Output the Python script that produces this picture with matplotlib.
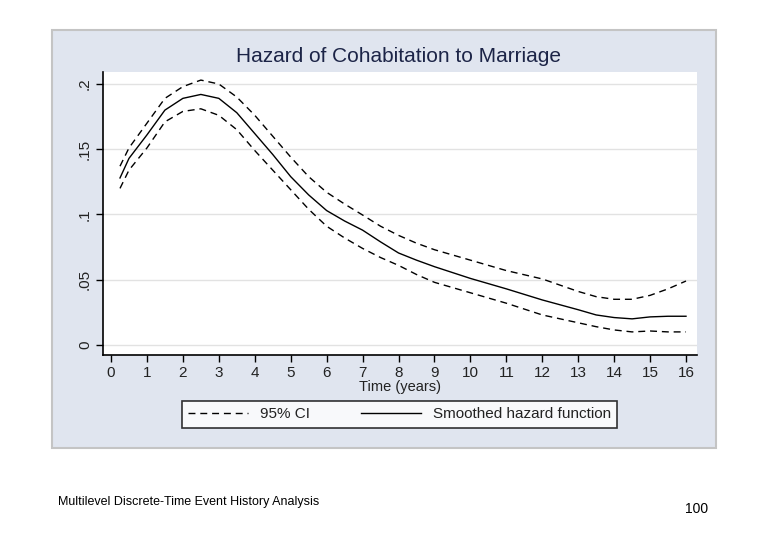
## hazard plot: cohabitation -> marriage

import matplotlib
matplotlib.use('Agg')
import matplotlib.pyplot as plt
from matplotlib.patches import Rectangle

# values
time = [0.25, 0.5, 1, 1.5, 2, 2.5, 3, 3.5, 4, 4.5, 5, 5.5, 6, 6.5, 7, 7.5, 8, 8.5, 9,
        10, 11, 12, 13, 13.5, 14, 14.5, 15, 15.5, 16]
hazard = [0.128, 0.143, 0.161, 0.180, 0.189, 0.192, 0.189, 0.178, 0.162, 0.146, 0.129,
          0.115, 0.103, 0.095, 0.088, 0.079, 0.0705, 0.065, 0.060,
          0.051, 0.043, 0.0345, 0.027, 0.023, 0.021, 0.020, 0.0215, 0.022, 0.022]
ci_upper = [0.137, 0.151, 0.170, 0.189, 0.198, 0.203, 0.200, 0.190, 0.176, 0.160, 0.144,
            0.129, 0.117, 0.108, 0.0996, 0.091, 0.084, 0.078, 0.073,
            0.065, 0.057, 0.0506, 0.041, 0.037, 0.035, 0.035, 0.038, 0.043, 0.049]
ci_lower = [0.120, 0.134, 0.151, 0.171, 0.179, 0.181, 0.176, 0.165, 0.149, 0.134, 0.119,
            0.104, 0.091, 0.082, 0.074, 0.067, 0.061, 0.054, 0.048,
            0.040, 0.032, 0.023, 0.017, 0.014, 0.0115, 0.010, 0.0107, 0.010, 0.010]

xticks = list(range(0, 17))
yticks = [0, 0.05, 0.1, 0.15, 0.2]
ytick_labels = ['0', '.05', '.1', '.15', '.2']

plt.rcParams['font.family'] = ['Liberation Sans', 'DejaVu Sans']

W, H = 780, 540
fig = plt.figure(figsize=(7.8, 5.4), dpi=100)
fig.patch.set_facecolor('white')

# grey stata panel (behind the axes)
panel = Rectangle((52 / W, 1 - 448 / H), 664 / W, 418 / H, transform=fig.transFigure,
                  facecolor='#e0e5ef', edgecolor='#c4c4c4', lw=1.5, zorder=-10)
fig.patches.append(panel)

ax = fig.add_axes([103 / W, 1 - 355 / H, 594 / W, 283 / H])
ax.set_zorder(1)
ax.set_facecolor('white')

ax.plot(time, ci_upper, color='black', lw=1, dashes=(5, 3.5), label='95% CI')
ax.plot(time, hazard, color='black', lw=1, label='Smoothed hazard function')
ax.plot(time, ci_lower, color='black', lw=1, dashes=(5, 3.5))

ax.set_xlim(-0.223, 16.306)
ax.set_ylim(-0.0077, 0.2092)
ax.set_xticks(xticks)
ax.set_yticks(yticks)
ax.set_yticklabels(ytick_labels, rotation=90, va='center')
ax.tick_params(labelsize=11, length=5, width=1, pad=3, color='black', labelcolor='#222222')
ax.yaxis.grid(True, color='#e2e2e2', lw=1)
ax.set_axisbelow(True)
for s in ['top', 'right']:
    ax.spines[s].set_visible(False)
ax.spines['left'].set_linewidth(1.2)
ax.spines['bottom'].set_linewidth(1.2)

ax.set_xlabel('Time (years)', fontsize=10.5, color='#222222', labelpad=0)
fig.text(399 / W, 1 - 56 / H, 'Hazard of Cohabitation to Marriage', ha='center', va='center',
         fontsize=15, color='#1c2447')

leg = fig.legend(loc='center', bbox_to_anchor=(182 / W, 1 - 428 / H, 435 / W, 27 / H),
                 mode='expand', ncol=2,
                 fontsize=11, frameon=True, fancybox=False, edgecolor='black',
                 handlelength=3.9, handletextpad=0.8, columnspacing=2.0,
                 borderpad=0.4, borderaxespad=0)
leg.get_frame().set_linewidth(1.2)
for t in leg.get_texts():
    t.set_color('#222222')

# footer of the slide
fig.text(58 / W, 1 - 502 / H, 'Multilevel Discrete-Time Event History Analysis',
         ha='left', va='center', fontsize=9)
fig.text(697 / W, 1 - 509 / H, '100', ha='center', va='center', fontsize=10)

fig.savefig('out.png', dpi=100, facecolor='white')
